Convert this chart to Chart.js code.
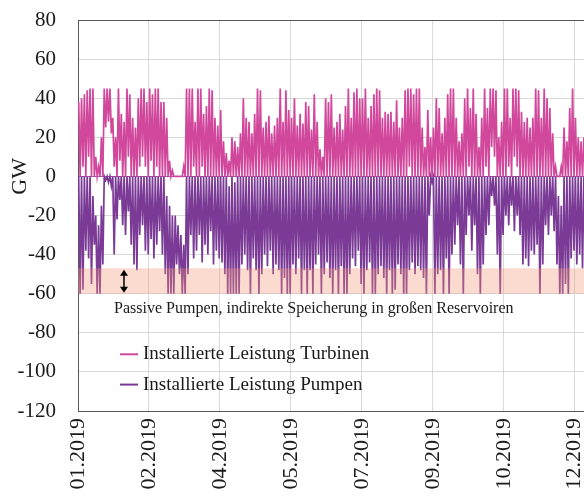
<!DOCTYPE html>
<html>
<head>
<meta charset="utf-8">
<script src="https://cdn.jsdelivr.net/npm/chart.js@4.4.0/dist/chart.umd.min.js"></script>
<style>
  html, body { margin: 0; padding: 0; background: #fff; overflow: hidden; }
</style>
</head>
<body>
<canvas id="chart" width="600" height="497"></canvas>
<script>
// Werte je 2-Tage-Abschnitt ab 01.01.2019 (Maximum / Minimum im Abschnitt)
const binDays = 2;

const turbHi = [
  38,40,42,44,45,45,10,5,20,45,
  45,45,30,20,45,32,28,45,42,30,
  25,40,45,45,38,45,42,45,45,38,
  38,30,8,3,0,0,0,5,45,45,
  45,28,45,45,32,36,45,44,30,26,
  34,18,12,8,20,18,15,22,40,30,
  28,22,32,45,44,25,28,31,22,26,
  30,45,28,44,34,30,40,26,32,27,
  38,36,24,42,28,14,10,40,38,42,
  25,28,32,24,36,45,30,43,45,40,
  40,45,30,36,42,45,44,30,33,32,
  33,28,39,25,30,44,45,45,42,45,
  45,25,15,34,20,25,40,35,22,30,
  42,45,45,30,18,22,40,45,35,45,
  32,15,30,45,35,45,45,44,20,28,
  45,45,30,45,45,44,33,28,30,25,
  30,45,44,30,45,40,35,22,5,0,
  5,25,18,35,45,30,20,18,20,25,
  15,20,10
];
const turbLo = [
  0,5,0,10,0,0,0,0,0,25,
  28,22,5,0,8,0,0,10,0,0,
  0,5,10,5,0,8,0,5,0,0,
  0,0,0,0,0,0,0,0,0,0,
  5,0,0,5,0,0,0,0,0,0,
  0,0,0,0,0,0,0,0,0,0,
  0,0,0,0,0,0,0,0,0,0,
  0,0,0,0,0,0,0,0,0,0,
  0,0,0,0,0,0,0,0,0,0,
  0,0,0,0,0,0,0,0,0,0,
  0,0,0,0,0,0,0,0,0,0,
  0,0,0,0,0,0,5,0,0,0,
  0,0,0,0,0,0,0,0,0,0,
  0,0,0,0,0,0,0,5,0,0,
  0,0,0,5,0,15,10,0,0,0,
  0,5,0,10,5,0,0,0,0,0,
  0,0,0,0,0,0,0,0,0,0,
  0,0,0,0,0,0,0,0,0,0,
  0,0,0
];
const pumpLo = [
  -60,-58,-38,-42,-55,-35,-60,-60,-45,-2,
  -3,-5,-40,-22,-12,-25,-30,-18,-35,-45,
  -48,-30,-25,-38,-40,-32,-42,-35,-28,-40,
  -50,-60,-60,-60,-45,-50,-60,-60,-50,-30,
  -42,-38,-30,-44,-35,-40,-28,-45,-38,-42,
  -44,-50,-60,-60,-60,-60,-60,-45,-40,-48,
  -60,-42,-48,-60,-50,-40,-46,-38,-50,-45,
  -48,-60,-52,-60,-60,-45,-50,-42,-60,-48,
  -60,-48,-60,-45,-40,-60,-50,-44,-52,-60,
  -48,-60,-46,-60,-60,-50,-42,-46,-38,-55,
  -60,-48,-44,-60,-60,-50,-46,-52,-60,-48,
  -60,-58,-45,-50,-60,-60,-48,-44,-50,-46,
  -48,-52,-60,-20,-3,-60,-50,-48,-60,-42,
  -60,-40,-35,-25,-45,-60,-30,-20,-38,-25,
  -50,-60,-45,-30,-25,-10,-15,-40,-60,-30,
  -20,-25,-15,-28,-20,-30,-45,-42,-46,-38,
  -40,-35,-60,-45,-25,-30,-20,-28,-45,-60,
  -60,-55,-60,-42,-38,-45,-40,-47,-45,-40,
  -50,-35,-30
];
const pumpHi = [
  0,0,0,0,0,-10,-20,-25,-15,0,
  0,0,0,0,0,0,0,0,0,0,
  0,0,0,0,0,0,0,0,0,0,
  0,-10,-15,-20,-20,-25,-30,-35,0,0,
  0,0,0,0,0,0,0,0,0,0,
  0,0,0,-5,0,-3,0,0,0,0,
  0,0,0,0,0,0,0,0,0,0,
  0,0,0,0,0,0,0,0,0,0,
  0,0,0,0,0,0,0,0,0,0,
  0,0,0,0,0,0,0,0,0,0,
  0,0,0,0,0,0,0,0,0,0,
  0,0,0,0,0,0,0,0,0,0,
  0,0,0,0,0,0,0,0,0,0,
  0,0,0,0,0,0,0,0,0,0,
  0,0,0,0,0,0,0,0,0,0,
  0,0,0,0,0,0,0,0,0,0,
  0,0,0,0,0,0,0,0,0,-10,
  -15,0,0,0,0,0,0,0,0,0,
  0,0,0
];

const xTickDays = [0, 50, 100, 150, 200, 250, 300, 350];
const xLabels = ['01.2019', '02.2019', '04.2019', '05.2019', '07.2019', '09.2019', '10.2019', '12.2019'];
const seriesNames = ['Installierte Leistung Turbinen', 'Installierte Leistung Pumpen'];
const bandRange = [-60, -47];
const bandText = 'Passive Pumpen, indirekte Speicherung in großen Reservoiren';

// Punkte: pro Abschnitt erst hoch, dann tief
function toPoints(a, b) {
  const pts = [];
  for (let i = 0; i < a.length; i++) {
    pts.push({ x: i * binDays + 0.5, y: a[i] });
    pts.push({ x: i * binDays + 1.5, y: b[i] });
  }
  return pts;
}

const serif = 'Liberation Serif, Times New Roman, serif';
const colTurb = '#d1479c';
const colPump = '#7a3a96';

const extras = {
  id: 'extras',
  afterDatasetsDraw(chart) {
    const { ctx, chartArea: a, scales: { x, y } } = chart;
    ctx.save();
    // band
    const yT = y.getPixelForValue(bandRange[1]);
    const yB = y.getPixelForValue(bandRange[0]);
    ctx.fillStyle = 'rgba(244,150,120,0.35)';
    ctx.fillRect(a.left, yT, a.right - a.left, yB - yT);

    // double arrow
    const ax = x.getPixelForValue(32.4);
    const a1 = y.getPixelForValue(-47.8), a2 = y.getPixelForValue(-59.5);
    ctx.strokeStyle = '#000';
    ctx.fillStyle = '#000';
    ctx.lineWidth = 1.5;
    ctx.beginPath();
    ctx.moveTo(ax, a1 + 4);
    ctx.lineTo(ax, a2 - 4);
    ctx.stroke();
    ctx.beginPath();
    ctx.moveTo(ax, a1); ctx.lineTo(ax - 4, a1 + 6); ctx.lineTo(ax + 4, a1 + 6); ctx.closePath();
    ctx.fill();
    ctx.beginPath();
    ctx.moveTo(ax, a2); ctx.lineTo(ax - 4, a2 - 6); ctx.lineTo(ax + 4, a2 - 6); ctx.closePath();
    ctx.fill();

    // text under band
    ctx.font = '16px ' + serif;
    ctx.fillStyle = '#1a1a1a';
    ctx.textBaseline = 'middle';
    ctx.textAlign = 'left';
    ctx.fillText(bandText, x.getPixelForValue(25.4), y.getPixelForValue(-67.5));

    // legend
    const legY = [-91, -106.5];
    const cols = [colTurb, colPump];
    ctx.font = '19px ' + serif;
    for (let i = 0; i < 2; i++) {
      const py = y.getPixelForValue(legY[i]);
      ctx.strokeStyle = cols[i];
      ctx.lineWidth = 2;
      ctx.beginPath();
      ctx.moveTo(x.getPixelForValue(29.6), py);
      ctx.lineTo(x.getPixelForValue(42.3), py);
      ctx.stroke();
      ctx.fillStyle = '#1a1a1a';
      ctx.fillText(seriesNames[i], x.getPixelForValue(45.8), py);
    }

    // top frame line
    ctx.strokeStyle = '#595959';
    ctx.lineWidth = 1;
    ctx.beginPath();
    ctx.moveTo(a.left, a.top + 0.5);
    ctx.lineTo(a.right, a.top + 0.5);
    ctx.stroke();

    // axis title
    ctx.translate(20, y.getPixelForValue(0));
    ctx.rotate(-Math.PI / 2);
    ctx.font = '22px ' + serif;
    ctx.textAlign = 'center';
    ctx.fillStyle = '#1a1a1a';
    ctx.fillText('GW', 0, 0);
    ctx.restore();
  }
};

new Chart(document.getElementById('chart'), {
  type: 'line',
  data: {
    datasets: [
      {
        label: seriesNames[0],
        data: toPoints(turbHi, turbLo),
        borderColor: colTurb,
        borderWidth: 1.7,
        pointRadius: 0,
        tension: 0,
        fill: false
      },
      {
        label: seriesNames[1],
        data: toPoints(pumpHi, pumpLo),
        borderColor: colPump,
        borderWidth: 1.7,
        pointRadius: 0,
        tension: 0,
        fill: false
      }
    ]
  },
  options: {
    responsive: false,
    animation: false,
    layout: { padding: { top: 20, right: 4, left: 0, bottom: 0 } },
    plugins: { legend: { display: false }, tooltip: { enabled: false } },
    scales: {
      x: {
        type: 'linear',
        min: 0,
        max: 365,
        grid: { color: '#d9d9d9', drawTicks: false },
        border: { color: '#595959' },
        ticks: {
          autoSkip: false,
          minRotation: 90,
          maxRotation: 90,
          padding: 7,
          color: '#1a1a1a',
          font: { family: serif, size: 22 },
          callback: (v) => xLabels[xTickDays.indexOf(v)]
        },
        afterBuildTicks: (s) => { s.ticks = xTickDays.map(v => ({ value: v })); },
        afterFit: (s) => { s.height = 86; s.paddingLeft = 0; s.paddingRight = 0; }
      },
      y: {
        min: -120,
        max: 80,
        grid: {
          color: (c) => (c.tick && c.tick.value === 0 ? '#a0559f' : '#d9d9d9'),
          drawTicks: false
        },
        border: { color: '#595959' },
        ticks: {
          stepSize: 20,
          padding: 22,
          color: '#1a1a1a',
          font: { family: serif, size: 21 }
        },
        afterFit: (s) => { s.width = 78; s.paddingTop = 0; s.paddingBottom = 0; }
      }
    }
  },
  plugins: [extras]
});
</script>
</body>
</html>
